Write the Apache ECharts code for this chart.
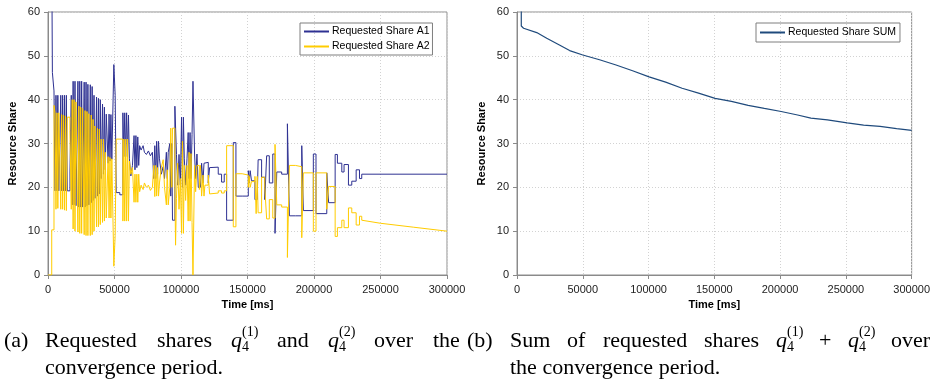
<!DOCTYPE html>
<html>
<head>
<meta charset="utf-8">
<script src="https://cdn.jsdelivr.net/npm/echarts@6/dist/echarts.min.js"></script>
<style>
  html, body { margin: 0; padding: 0; background: #fff; }
  #chart { width: 933px; height: 387px; }
</style>
</head>
<body>
<div id="chart"></div>
<script>
// switch times (ms) of the step lines in panel (a)
const switchTimes = [
  0, 2800, 3300, 4500, 5300, 6000, 6700, 7400, 8100, 9600,
  10300, 11000, 11700, 12400, 13100, 13800, 14500, 16500, 17500, 18200,
  18900, 19600, 20300, 21000, 22500, 23200, 23900, 24600, 25300, 26000,
  27200, 27900, 28600, 29300, 30000, 30700, 31800, 32500, 33200, 33900,
  34600, 35300, 36500, 37200, 37900, 38600, 39300, 40000, 41000, 41700,
  42400, 43100, 43800, 45200, 45900, 46600, 47300, 48000, 49500, 50500,
  51300, 54000, 56300, 57000, 57700, 58400, 59100, 59800, 60500, 61200,
  62300, 63500, 64700, 65400, 66100, 66800, 67500, 68200, 68900, 70000,
  71500, 72500, 74000, 75500, 77000, 78500, 79500, 80300, 81000, 81700,
  82400, 83100, 83800, 85200, 86600, 87600, 89000, 89700, 90400, 91600,
  92300, 93100, 93600, 95400, 95900, 96600, 97500, 98500, 99500, 100400,
  101100, 101800, 102500, 103500, 104500, 105400, 106100, 106800, 107500, 108300,
  109000, 110200, 111000, 112000, 113000, 113800, 114600, 115500, 116500, 117300,
  118000, 120500, 121500, 123000, 128000, 130500, 132500, 134300, 139300, 141300,
  146000, 150600, 151300, 152000, 153000, 155600, 156500, 157300, 158000, 160600,
  163000, 164400, 166400, 169000, 170700, 172000, 175700, 180000, 181500, 186000,
  190800, 192000, 199500, 201500, 209600, 211000, 215900, 217600, 220900, 222600,
  225900, 228400, 231700, 234200, 235900, 300000
];

const shareA1 = [
  75, 75, 46.2, 42, 19.2, 41, 19.2, 41, 19.2, 41,
  19.2, 41, 19.2, 41, 19.2, 41, 19.2, 23.5, 41, 16,
  44.2, 16, 44.2, 15.8, 44.2, 15.5, 44.2, 15.5, 44.2, 15.5,
  44, 15.5, 44, 15.8, 43.5, 16, 43.4, 16.5, 43, 17,
  41, 17.5, 40.6, 18, 40.3, 18.5, 40, 22, 39, 23,
  38.3, 24, 36.7, 25.5, 36.7, 26, 36.6, 26.4, 48, 41,
  18.8, 18.3, 37, 27, 37, 27, 37, 27, 36.5, 26.5,
  22.6, 25, 31.8, 24, 31.8, 24.5, 31.5, 25, 29.5, 28.5,
  29.5, 28, 27.5, 28.3, 27.2, 28, 22, 29.5, 22, 30.5,
  23, 30.5, 26.5, 23, 24.7, 22, 28, 22, 28, 30,
  18, 30, 12.5, 38.5, 38.5, 27.5, 20.5, 27.5, 20.5, 36,
  20, 36, 26.5, 20.5, 26.5, 32.5, 22, 32.5, 22, 32,
  44.2, 27.6, 22, 27.6, 20, 20, 20, 25.5, 21, 25.5,
  25.7, 21, 24.5, 24.6, 23, 21.2, 23, 12.5, 30.2, 18,
  18, 23.8, 21, 23.8, 21.5, 17.2, 17.2, 17.2, 26.3, 22.3,
  17.2, 27.2, 21, 27.6, 9.5, 23.5, 23, 34.5, 13.5, 13.5,
  29.5, 14.7, 27.6, 14, 23.3, 16.5, 27.5, 25.5, 23.5, 25.2,
  20.5, 21.4, 24, 22, 23, 23
];

// A2 stops at the last switch; its tail is drawn by tailA2
const shareA2 = [
  0, 10.3, 10.3, 38.7, 37, 15, 37, 15.2, 37, 15,
  36.6, 15, 36.5, 14.8, 36.3, 14.7, 36, 33, 15, 40,
  10.5, 40, 10, 39.5, 9.8, 38.5, 9.5, 38.3, 9.5, 38,
  9.2, 37.5, 9, 37.3, 9, 36.8, 9, 36.5, 9.2, 35.5,
  10, 34, 11, 33.5, 11, 33.3, 11.5, 31, 12, 31,
  12.3, 28, 13, 27, 13, 26.8, 13, 26.5, 2, 9,
  31, 31, 12.3, 31, 12.3, 31, 12.3, 31, 12.3, 26,
  23, 24.5, 16.6, 23, 16.6, 23, 16.6, 23, 19, 20.5,
  19.5, 21, 20, 20.5, 19.3, 20, 25, 17.9, 25, 18,
  24.5, 18, 21, 24.5, 26.3, 20, 16, 24, 16, 20,
  33.5, 20, 33.5, 20, 6.8, 17.5, 25.5, 15, 22, 9.5,
  30.5, 9.5, 25, 17, 25, 12.3, 28, 12.3, 27.7, 12,
  0, 25, 19, 25, 25, 19.5, 25, 18, 22.8, 18,
  20.5, 22.8, 18.5, 18.7, 19.2, 18.7, 19.2, 29.5, 11, 23.1,
  22.8, 20, 22.5, 20, 21.3, 22.5, 14, 22.5, 14.2, 22.3,
  20, 12.8, 17.2, 13, 29.8, 16, 15.5, 4, 25, 24.7,
  8.5, 23.3, 10, 23.3, 15, 20.2, 8.8, 10.8, 12.5, 10.8,
  15.3, 14.2, 11.4, 13.4, 12.5
];

// slowly falling tail of A2 after convergence
const tailTimes = [235900, 250000, 275000, 300000];
const tailA2 = [12.5, 11.8, 10.9, 10.0];

// panel (b): sum of both requested shares
const sumTimes = [
  3200, 3260, 5000, 15000, 22600, 32600, 40000, 50000, 62750, 75300,
  87850, 100400, 113000, 125500, 138000, 150600, 163000, 175700, 188000, 200800,
  213300, 223400, 236000, 251000, 263500, 276000, 288600, 300000
];
const shareSum = [
  75, 56.8, 56.3, 55.3, 54.0, 52.4, 51.2, 50.2, 49.1, 47.9,
  46.6, 45.2, 44.0, 42.6, 41.5, 40.3, 39.6, 38.7, 38.0, 37.3,
  36.5, 35.8, 35.4, 34.7, 34.2, 33.9, 33.4, 33.0
];

const yTicks = { min: 0, max: 60, interval: 10 };
const xTicks = { min: 0, max: 300000, interval: 50000 };

const BLUE = '#2e3192';
const YELLOW = '#ffcc00';
const SUM_BLUE = '#1f4a7c';

// only as many points as there are values
const pairs = (xs, ys) => ys.map((y, i) => [xs[i], y]);

const tickFont = {
  fontFamily: 'Liberation Sans',
  fontSize: 11,
  color: '#222',
};
const nameFont = {
  fontFamily: 'Liberation Sans',
  fontSize: 11,
  fontWeight: 'bold',
  color: '#000',
};

function xAxisFor(gridIndex) {
  return {
    gridIndex,
    type: 'value',
    ...xTicks,
    name: 'Time [ms]',
    nameLocation: 'middle',
    nameGap: 24,
    nameTextStyle: nameFont,
    axisLine: { show: true, lineStyle: { color: '#8a8a8a' } },
    axisTick: { show: true, length: 4, lineStyle: { color: '#8a8a8a' } },
    axisLabel: { ...tickFont, margin: 9, formatter: (v) => String(v) },
    splitLine: { show: true, lineStyle: { color: '#d2d2d2', type: [1, 2] } },
  };
}

function yAxisFor(gridIndex) {
  return {
    gridIndex,
    type: 'value',
    ...yTicks,
    name: 'Resource Share',
    nameLocation: 'middle',
    nameGap: 30,
    nameTextStyle: nameFont,
    axisLine: { show: true, lineStyle: { color: '#8a8a8a' } },
    axisTick: { show: true, length: 4, lineStyle: { color: '#8a8a8a' } },
    axisLabel: { ...tickFont, margin: 8 },
    splitLine: { show: true, lineStyle: { color: '#d2d2d2', type: [1, 2] } },
  };
}

const legendBase = {
  orient: 'vertical',
  icon: 'rect',
  itemWidth: 25,
  itemHeight: 2,
  itemGap: 4,
  selectedMode: false,
  borderColor: '#7f7f7f',
  borderWidth: 1,
  borderRadius: 0,
  padding: [3, 3, 3, 4],
  textStyle: { fontFamily: 'Liberation Sans', fontSize: 10.5, color: '#000', padding: [0, 0, 0, -2] },
};

// caption pieces: justified serif text with q subscript/superscript
const capFont = 'Liberation Serif';
const capSize = 22;
function word(x, y, text, italic) {
  return {
    type: 'text', x, y,
    style: {
      text, fill: '#000', font: `${italic ? 'italic ' : ''}${capSize}px "${capFont}"`,
      textVerticalAlign: 'middle',
    },
  };
}
function small(x, y, text) {
  return {
    type: 'text', x, y,
    style: { text, fill: '#000', font: `14px "${capFont}"`, textVerticalAlign: 'middle' },
  };
}
function qSymbol(x, y, sup) {
  return [word(x, y, 'q', true), small(x + 11, y - 9, sup), small(x + 11, y + 6, '4')];
}

const row1 = 341;
const row2 = 368;
const captions = [
  word(4, row1, '(a)'),
  word(45, row1, 'Requested'),
  word(157, row1, 'shares'),
  ...qSymbol(231, row1, '(1)'),
  word(277, row1, 'and'),
  ...qSymbol(328, row1, '(2)'),
  word(374, row1, 'over'),
  word(433, row1, 'the'),
  word(467, row1, '(b)'),
  word(510, row1, 'Sum'),
  word(567, row1, 'of'),
  word(603, row1, 'requested'),
  word(704, row1, 'shares'),
  ...qSymbol(776, row1, '(1)'),
  word(819, row1, '+'),
  ...qSymbol(848, row1, '(2)'),
  word(891, row1, 'over'),
  word(45, row2, 'convergence period.'),
  word(510, row2, 'the convergence period.'),
];

const chart = echarts.init(document.getElementById('chart'));
chart.setOption({
  backgroundColor: '#fff',
  animation: false,
  grid: [
    { left: 48, right: 486, top: 12, bottom: 112, show: true, borderColor: '#8f8f8f', borderWidth: 1 },
    { left: 517, right: 18, top: 12, bottom: 112, show: true, borderColor: '#8f8f8f', borderWidth: 1 },
  ],
  xAxis: [xAxisFor(0), xAxisFor(1)],
  yAxis: [yAxisFor(0), yAxisFor(1)],
  legend: [
    { ...legendBase, left: 300, top: 23, data: ['Requested Share A1', 'Requested Share A2'] },
    { ...legendBase, left: 756, top: 23, padding: [4, 4, 4, 4], data: ['Requested Share SUM'] },
  ],
  series: [
    {
      name: 'Requested Share A1',
      type: 'line',
      xAxisIndex: 0, yAxisIndex: 0,
      step: 'end',
      showSymbol: false,
      color: BLUE,
      lineStyle: { width: 1, color: BLUE },
      data: pairs(switchTimes, shareA1),
    },
    {
      name: 'Requested Share A2',
      type: 'line',
      xAxisIndex: 0, yAxisIndex: 0,
      step: 'end',
      showSymbol: false,
      color: YELLOW,
      lineStyle: { width: 1, color: YELLOW },
      data: pairs(switchTimes, shareA2),
    },
    {
      name: 'Requested Share A2',
      type: 'line',
      xAxisIndex: 0, yAxisIndex: 0,
      showSymbol: false,
      color: YELLOW,
      lineStyle: { width: 1, color: YELLOW },
      data: pairs(tailTimes, tailA2),
    },
    {
      name: 'Requested Share SUM',
      type: 'line',
      xAxisIndex: 1, yAxisIndex: 1,
      showSymbol: false,
      color: SUM_BLUE,
      lineStyle: { width: 1.2, color: SUM_BLUE },
      data: pairs(sumTimes, shareSum),
    },
  ],
  graphic: captions,
});
</script>
</body>
</html>
